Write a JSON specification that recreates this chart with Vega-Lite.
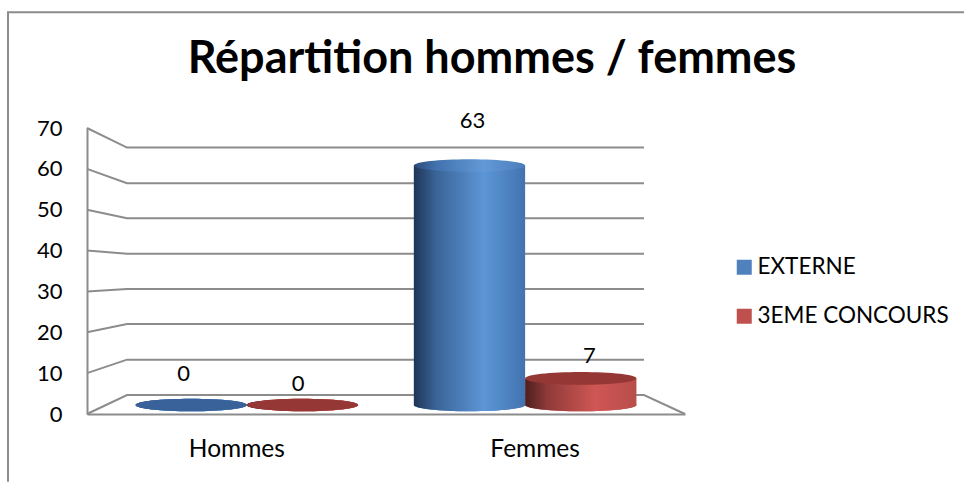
{
"$schema":"https://vega.github.io/schema/vega-lite/v6.json",
"width":598,"height":286,
"autosize":"none",
"padding":{"left":87,"top":128,"right":279,"bottom":68},
"background":"white",
"config":{"view":{"stroke":null},"font":"Lato"},
"title":{"text":"Répartition hommes / femmes","font":"Lato","fontSize":45,"fontWeight":"bold","color":"#000000","anchor":"middle","frame":"group","dx":106,"offset":-110,"baseline":"alphabetic"},
"datasets":{
"values":[
{"categorie":"Hommes","serie":"EXTERNE","valeur":0},
{"categorie":"Hommes","serie":"3EME CONCOURS","valeur":0},
{"categorie":"Femmes","serie":"EXTERNE","valeur":63},
{"categorie":"Femmes","serie":"3EME CONCOURS","valeur":7}
],
"grid":[
{"level":"frame","p":1,"x":-79,"v":-16.6},{"level":"frame","p":2,"x":-79,"v":98.3},{"level":"frame","p":3,"x":877,"v":98.3},
{"level":"70","p":1,"x":0,"v":70},{"level":"70","p":2,"x":40,"v":65.2},{"level":"70","p":3,"x":557,"v":65.2},
{"level":"60","p":1,"x":0,"v":60},{"level":"60","p":2,"x":40,"v":56.5},{"level":"60","p":3,"x":557,"v":56.5},
{"level":"50","p":1,"x":0,"v":50},{"level":"50","p":2,"x":40,"v":47.9},{"level":"50","p":3,"x":557,"v":47.9},
{"level":"40","p":1,"x":0,"v":40},{"level":"40","p":2,"x":40,"v":39.2},{"level":"40","p":3,"x":557,"v":39.2},
{"level":"30","p":1,"x":0,"v":30},{"level":"30","p":2,"x":40,"v":30.6},{"level":"30","p":3,"x":557,"v":30.6},
{"level":"20","p":1,"x":0,"v":20},{"level":"20","p":2,"x":40,"v":22},{"level":"20","p":3,"x":557,"v":22},
{"level":"10","p":1,"x":0,"v":10},{"level":"10","p":2,"x":40,"v":13.3},{"level":"10","p":3,"x":557,"v":13.3},
{"level":"0","p":1,"x":0,"v":0},{"level":"0","p":2,"x":40,"v":4.65},{"level":"0","p":3,"x":557,"v":4.65},{"level":"0","p":4,"x":598,"v":0}
]
},
"resolve":{"scale":{"x":"independent","y":"independent"},"axis":{"x":"independent","y":"independent"}},
"layer":[
{
"data":{"name":"grid"},
"mark":{"type":"line","color":"#8c8c8c","strokeWidth":2,"interpolate":"linear"},
"encoding":{
"x":{"field":"x","type":"quantitative","scale":{"domain":[0,598],"nice":false,"zero":false},"axis":null},
"y":{"field":"v","type":"quantitative","scale":{"domain":[0,70],"nice":false,"zero":false},"axis":{"values":[0,10,20,30,40,50,60,70],"title":null,"grid":false,"ticks":false,"domain":true,"domainColor":"#8c8c8c","domainWidth":2,"labelFont":"Lato","labelFontSize":22,"labelColor":"#000000","labelPadding":25}},
"detail":{"field":"level"},
"order":{"field":"p"}
}
},
{
"data":{"name":"values"},
"encoding":{
"x":{"field":"categorie","type":"nominal","sort":["Hommes","Femmes"],"scale":{"type":"band","domain":["Hommes","Femmes"],"paddingInner":0.2,"paddingOuter":0.1746},"axis":{"title":null,"labelAngle":0,"ticks":false,"domain":true,"domainColor":"#8c8c8c","domainWidth":2,"labelFont":"Lato","labelFontSize":24.5,"labelColor":"#000000","labelPadding":23,"labelOffset":{"condition":{"test":"datum.value=='Hommes'","value":-10},"value":10}}},
"xOffset":{"field":"serie","type":"nominal","scale":{"domain":["EXTERNE","3EME CONCOURS"],"paddingInner":0,"paddingOuter":0}},
"y":{"field":"valeur","type":"quantitative","stack":null,"scale":{"domain":[-2.37,72.9],"nice":false,"zero":false},"axis":null}
},
"layer":[
{"mark":{"type":"point","shape":"M-1,0A1,0.113,0,1,1,1,0A1,0.113,0,1,1,-1,0Z","filled":true,"opacity":1,"size":12388,"strokeWidth":0},
"encoding":{"y":{"datum":0,"type":"quantitative"},"color":{"field":"serie","type":"nominal","scale":{"domain":["EXTERNE","3EME CONCOURS"],"range":["#4f81bd","#c0504d"]},"legend":{"title":null,"orient":"none","legendX":646,"legendY":128,"symbolType":"square","symbolSize":225,"symbolStrokeWidth":0,"symbolOpacity":1,"labelFont":"Lato","labelFontSize":22.5,"labelColor":"#000000","labelOffset":2,"rowPadding":26,"padding":0,"labelLimit":300}}}},
{"transform":[{"filter":"datum.serie=='EXTERNE'"}],"layer":[
{"mark":{"type":"point","shape":"M-1,0A1,0.113,0,1,1,1,0A1,0.113,0,1,1,-1,0Z","filled":true,"opacity":1,"size":12388,"strokeWidth":0,"fill":{"gradient":"linear","x1":0,"x2":1,"y1":0,"y2":0,"stops":[{"offset":0,"color":"#1f3556"},{"offset":0.2,"color":"#3a6498"},{"offset":0.63,"color":"#5c96d6"},{"offset":1,"color":"#4273b0"}]}},"encoding":{"y":{"datum":0,"type":"quantitative"}}},
{"mark":{"type":"bar","fill":{"gradient":"linear","x1":0,"x2":1,"y1":0,"y2":0,"stops":[{"offset":0,"color":"#1f3556"},{"offset":0.2,"color":"#3a6498"},{"offset":0.63,"color":"#5c96d6"},{"offset":1,"color":"#4273b0"}]}}},
{"transform":[{"filter":"datum.categorie=='Hommes'"}],"mark":{"type":"point","shape":"M-1,0A1,0.113,0,1,1,1,0A1,0.113,0,1,1,-1,0Z","filled":true,"opacity":1,"size":12388,"strokeWidth":0,"fill":"#386299"}},
{"transform":[{"filter":"datum.categorie=='Femmes'"}],"mark":{"type":"point","shape":"M-1,0A1,0.113,0,1,1,1,0A1,0.113,0,1,1,-1,0Z","filled":true,"opacity":1,"size":12388,"strokeWidth":0,"fill":{"gradient":"linear","x1":0,"x2":1,"y1":0,"y2":0,"stops":[{"offset":0,"color":"#2b4a78"},{"offset":0.2,"color":"#4272ad"},{"offset":0.63,"color":"#6299d6"},{"offset":1,"color":"#4a7dbb"}]}}}
]},
{"transform":[{"filter":"datum.serie=='3EME CONCOURS'"}],"layer":[
{"mark":{"type":"point","shape":"M-1,0A1,0.113,0,1,1,1,0A1,0.113,0,1,1,-1,0Z","filled":true,"opacity":1,"size":12388,"strokeWidth":0,"fill":{"gradient":"linear","x1":0,"x2":1,"y1":0,"y2":0,"stops":[{"offset":0,"color":"#4d1f1e"},{"offset":0.2,"color":"#8f3a38"},{"offset":0.63,"color":"#cf5755"},{"offset":1,"color":"#b84d4a"}]}},"encoding":{"y":{"datum":0,"type":"quantitative"}}},
{"mark":{"type":"bar","fill":{"gradient":"linear","x1":0,"x2":1,"y1":0,"y2":0,"stops":[{"offset":0,"color":"#4d1f1e"},{"offset":0.2,"color":"#8f3a38"},{"offset":0.63,"color":"#cf5755"},{"offset":1,"color":"#b84d4a"}]}}},
{"mark":{"type":"point","shape":"M-1,0A1,0.113,0,1,1,1,0A1,0.113,0,1,1,-1,0Z","filled":true,"opacity":1,"size":12388,"strokeWidth":0,"fill":"#953735"}}
]},
{"transform":[{"filter":"datum.categorie=='Hommes' && datum.serie=='EXTERNE'"}],"mark":{"type":"text","font":"Lato","fontSize":22,"color":"#000000","dx":-7.5,"dy":-31},"encoding":{"text":{"field":"valeur","type":"quantitative"}}},
{"transform":[{"filter":"datum.categorie=='Hommes' && datum.serie=='3EME CONCOURS'"}],"mark":{"type":"text","font":"Lato","fontSize":22,"color":"#000000","dx":-4.5,"dy":-21},"encoding":{"text":{"field":"valeur","type":"quantitative"}}},
{"transform":[{"filter":"datum.categorie=='Femmes' && datum.serie=='EXTERNE'"}],"mark":{"type":"text","font":"Lato","fontSize":22,"color":"#000000","dx":3,"dy":-45},"encoding":{"text":{"field":"valeur","type":"quantitative"}}},
{"transform":[{"filter":"datum.categorie=='Femmes' && datum.serie=='3EME CONCOURS'"}],"mark":{"type":"text","font":"Lato","fontSize":22,"color":"#000000","dx":8.5,"dy":-22},"encoding":{"text":{"field":"valeur","type":"quantitative"}}}
]
}
]
}
